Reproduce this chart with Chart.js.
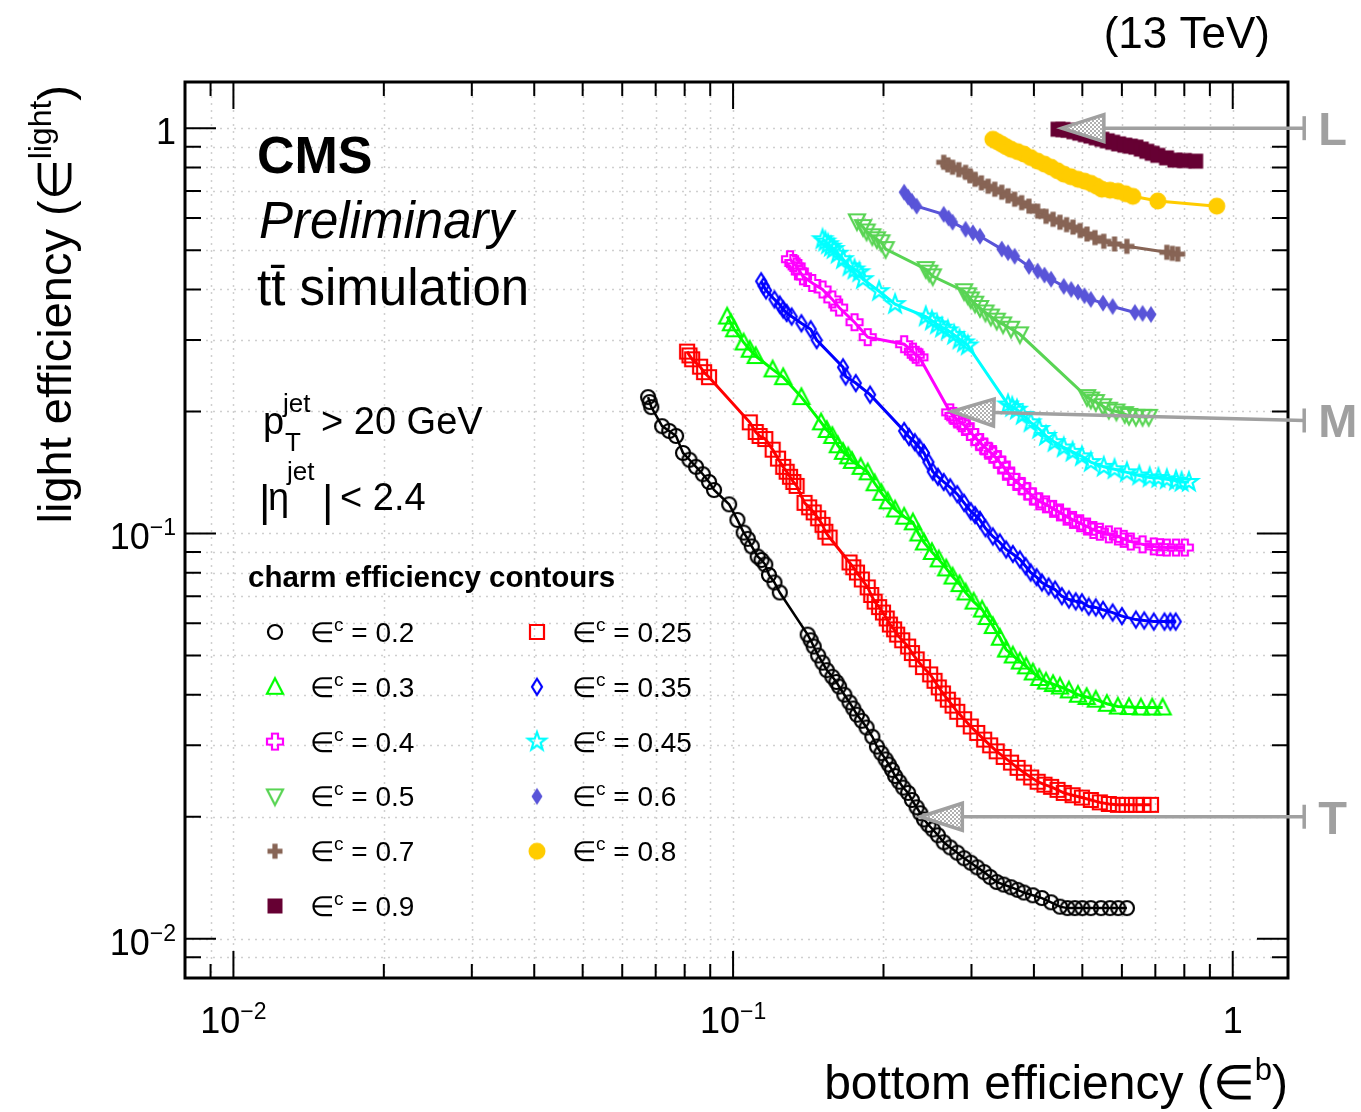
<!DOCTYPE html>
<html>
<head>
<meta charset="utf-8">
<script src="https://cdn.jsdelivr.net/npm/chart.js@4"></script>
<style>
  body { margin: 0; background: #ffffff; }
  #wrap { width: 1361px; height: 1112px; }
</style>
</head>
<body>
<div id="wrap"><canvas id="chart" width="1361" height="1112"></canvas></div>
<script>
// ---- data ----
const charmEff = [0.2, 0.25, 0.3, 0.35, 0.4, 0.45, 0.5, 0.6, 0.7, 0.8, 0.9];

const b020 = [0.0676, 0.0681, 0.0686, 0.0721, 0.0745, 0.0769, 0.0794, 0.0818, 0.0843, 0.087, 0.0895, 0.0916, 0.0982, 0.102, 0.105, 0.107, 0.109, 0.112, 0.114, 0.116, 0.118, 0.121, 0.124, 0.141, 0.143, 0.145, 0.148, 0.151, 0.154, 0.158, 0.161, 0.163, 0.167, 0.171, 0.174, 0.177, 0.181, 0.185, 0.19, 0.194, 0.198, 0.202, 0.205, 0.208, 0.211, 0.215, 0.219, 0.224, 0.228, 0.233, 0.237, 0.241, 0.246, 0.251, 0.257, 0.264, 0.272, 0.281, 0.29, 0.299, 0.308, 0.318, 0.327, 0.337, 0.348, 0.360, 0.371, 0.382, 0.398, 0.415, 0.433, 0.451, 0.467, 0.483, 0.50, 0.520, 0.545, 0.568, 0.59, 0.614];
const l020 = [0.217, 0.211, 0.205, 0.184, 0.179, 0.174, 0.158, 0.152, 0.146, 0.140, 0.134, 0.128, 0.118, 0.108, 0.1005, 0.097, 0.0929, 0.0877, 0.086, 0.0838, 0.079, 0.0757, 0.0715, 0.0563, 0.0545, 0.0526, 0.050, 0.0480, 0.046, 0.0443, 0.043, 0.0419, 0.040, 0.0383, 0.037, 0.0357, 0.0345, 0.0332, 0.0315, 0.0298, 0.0287, 0.0277, 0.0269, 0.0261, 0.0252, 0.0244, 0.0236, 0.0229, 0.022, 0.0211, 0.0204, 0.0197, 0.0191, 0.0186, 0.018, 0.0173, 0.0168, 0.0163, 0.0158, 0.0154, 0.015, 0.0146, 0.0142, 0.0138, 0.0136, 0.0134, 0.0132, 0.0130, 0.0128, 0.0126, 0.0123, 0.0120, 0.0119, 0.0119, 0.0119, 0.0119, 0.0119, 0.0119, 0.0119, 0.0119];

const b025 = [0.0809, 0.0818, 0.0828, 0.0859, 0.0875, 0.0895, 0.108, 0.111, 0.113, 0.116, 0.120, 0.123, 0.126, 0.128, 0.130, 0.132, 0.134, 0.139, 0.142, 0.145, 0.148, 0.151, 0.153, 0.156, 0.171, 0.174, 0.177, 0.181, 0.186, 0.189, 0.192, 0.196, 0.1995, 0.203, 0.206, 0.21, 0.213, 0.218, 0.224, 0.228, 0.233, 0.24, 0.248, 0.253, 0.258, 0.263, 0.269, 0.275, 0.281, 0.29, 0.299, 0.308, 0.318, 0.327, 0.337, 0.348, 0.360, 0.371, 0.382, 0.395, 0.407, 0.42, 0.433, 0.446, 0.459, 0.478, 0.499, 0.52, 0.542, 0.565, 0.589, 0.613, 0.640, 0.663, 0.686];
const l025 = [0.281, 0.275, 0.269, 0.258, 0.25, 0.243, 0.188, 0.178, 0.174, 0.171, 0.161, 0.153, 0.146, 0.142, 0.138, 0.134, 0.131, 0.119, 0.116, 0.1127, 0.109, 0.105, 0.101, 0.0977, 0.0848, 0.0825, 0.0801, 0.077, 0.0736, 0.0705, 0.0679, 0.0658, 0.0638, 0.0617, 0.0596, 0.058, 0.0563, 0.0545, 0.0526, 0.0507, 0.0489, 0.0468, 0.0449, 0.0433, 0.0417, 0.0403, 0.0389, 0.0376, 0.0363, 0.0348, 0.0334, 0.0322, 0.0310, 0.030, 0.0290, 0.0281, 0.0272, 0.0264, 0.0257, 0.025, 0.0244, 0.024, 0.0237, 0.0233, 0.0229, 0.0226, 0.0223, 0.022, 0.0217, 0.0215, 0.0214, 0.0214, 0.0214, 0.0214, 0.0214];

const b030 = [0.0973, 0.099, 0.1005, 0.105, 0.108, 0.111, 0.120, 0.126, 0.137, 0.150, 0.154, 0.158, 0.162, 0.166, 0.17, 0.173, 0.18, 0.186, 0.192, 0.198, 0.204, 0.211, 0.22, 0.229, 0.235, 0.241, 0.25, 0.258, 0.267, 0.275, 0.284, 0.292, 0.303, 0.315, 0.322, 0.331, 0.342, 0.352, 0.363, 0.375, 0.386, 0.398, 0.41, 0.423, 0.437, 0.451, 0.47, 0.490, 0.51, 0.532, 0.56, 0.589, 0.62, 0.655, 0.69, 0.724];
const l030 = [0.343, 0.33, 0.319, 0.296, 0.284, 0.274, 0.254, 0.243, 0.217, 0.188, 0.18, 0.174, 0.165, 0.159, 0.155, 0.151, 0.146, 0.1415, 0.133, 0.126, 0.12, 0.1146, 0.11, 0.1065, 0.10, 0.0950, 0.09, 0.0863, 0.082, 0.0783, 0.075, 0.0715, 0.0679, 0.0649, 0.0622, 0.0591, 0.0553, 0.0517, 0.05, 0.0483, 0.047, 0.0454, 0.044, 0.0431, 0.0425, 0.0419, 0.041, 0.0400, 0.0395, 0.0389, 0.038, 0.0374, 0.0373, 0.0372, 0.0372, 0.0372];

const b035 = [0.1138, 0.1151, 0.1164, 0.121, 0.124, 0.126, 0.128, 0.131, 0.137, 0.143, 0.147, 0.166, 0.168, 0.176, 0.188, 0.220, 0.225, 0.231, 0.236, 0.241, 0.246, 0.251, 0.257, 0.264, 0.272, 0.281, 0.29, 0.299, 0.305, 0.312, 0.32, 0.331, 0.342, 0.352, 0.363, 0.375, 0.385, 0.394, 0.405, 0.415, 0.428, 0.441, 0.455, 0.470, 0.485, 0.499, 0.515, 0.532, 0.55, 0.575, 0.6, 0.640, 0.665, 0.695, 0.73, 0.75, 0.769];
const l035 = [0.419, 0.408, 0.398, 0.378, 0.367, 0.357, 0.35, 0.343, 0.33, 0.319, 0.300, 0.257, 0.244, 0.235, 0.220, 0.179, 0.173, 0.168, 0.163, 0.158, 0.15, 0.142, 0.138, 0.134, 0.13, 0.125, 0.119, 0.1134, 0.111, 0.108, 0.103, 0.0983, 0.095, 0.0913, 0.089, 0.0863, 0.083, 0.0801, 0.078, 0.0757, 0.074, 0.0727, 0.07, 0.0687, 0.068, 0.0676, 0.066, 0.0657, 0.0648, 0.0638, 0.0625, 0.0613, 0.061, 0.0606, 0.0606, 0.0606, 0.0606];

const b040 = [0.130, 0.132, 0.134, 0.136, 0.138, 0.144, 0.151, 0.158, 0.163, 0.175, 0.186, 0.220, 0.229, 0.232, 0.236, 0.272, 0.276, 0.281, 0.287, 0.292, 0.298, 0.305, 0.311, 0.318, 0.324, 0.331, 0.338, 0.345, 0.352, 0.360, 0.369, 0.378, 0.388, 0.398, 0.41, 0.423, 0.437, 0.451, 0.465, 0.479, 0.495, 0.511, 0.526, 0.542, 0.565, 0.589, 0.605, 0.625, 0.66, 0.695, 0.715, 0.738, 0.77, 0.802];
const l040 = [0.475, 0.465, 0.456, 0.443, 0.431, 0.415, 0.400, 0.378, 0.361, 0.332, 0.305, 0.293, 0.281, 0.276, 0.272, 0.199, 0.195, 0.191, 0.187, 0.184, 0.178, 0.173, 0.168, 0.164, 0.16, 0.157, 0.152, 0.148, 0.143, 0.138, 0.134, 0.131, 0.127, 0.1234, 0.12, 0.118, 0.115, 0.1127, 0.11, 0.108, 0.106, 0.104, 0.102, 0.101, 0.0995, 0.0983, 0.097, 0.0955, 0.094, 0.0929, 0.0925, 0.0923, 0.0923, 0.0923];

const b045 = [0.151, 0.153, 0.155, 0.157, 0.159, 0.162, 0.166, 0.171, 0.175, 0.179, 0.182, 0.196, 0.211, 0.243, 0.25, 0.256, 0.262, 0.269, 0.277, 0.284, 0.29, 0.295, 0.355, 0.362, 0.370, 0.38, 0.394, 0.41, 0.423, 0.44, 0.459, 0.478, 0.499, 0.52, 0.552, 0.58, 0.614, 0.65, 0.682, 0.71, 0.738, 0.77, 0.79, 0.817];
const l045 = [0.532, 0.525, 0.517, 0.51, 0.503, 0.49, 0.475, 0.456, 0.448, 0.441, 0.424, 0.396, 0.368, 0.343, 0.335, 0.328, 0.322, 0.317, 0.309, 0.301, 0.296, 0.291, 0.208, 0.205, 0.202, 0.196, 0.188, 0.181, 0.174, 0.168, 0.163, 0.159, 0.155, 0.15, 0.146, 0.144, 0.1415, 0.139, 0.1375, 0.137, 0.136, 0.135, 0.134, 0.134];

const b050 = [0.177, 0.182, 0.185, 0.190, 0.194, 0.198, 0.202, 0.243, 0.247, 0.251, 0.290, 0.295, 0.299, 0.305, 0.312, 0.32, 0.328, 0.337, 0.347, 0.36, 0.375, 0.511, 0.52, 0.532, 0.55, 0.565, 0.585, 0.608, 0.62, 0.640, 0.66, 0.679];
const l050 = [0.589, 0.570, 0.556, 0.541, 0.532, 0.523, 0.503, 0.449, 0.44, 0.431, 0.396, 0.387, 0.378, 0.369, 0.360, 0.351, 0.343, 0.335, 0.328, 0.32, 0.310, 0.217, 0.214, 0.211, 0.206, 0.202, 0.2, 0.197, 0.195, 0.194, 0.194, 0.194];

const b060 = [0.220, 0.224, 0.228, 0.233, 0.264, 0.27, 0.275, 0.292, 0.302, 0.312, 0.345, 0.355, 0.366, 0.391, 0.407, 0.42, 0.433, 0.459, 0.475, 0.490, 0.505, 0.520, 0.55, 0.575, 0.637, 0.66, 0.686];
const l060 = [0.695, 0.676, 0.66, 0.642, 0.613, 0.60, 0.586, 0.563, 0.552, 0.541, 0.503, 0.493, 0.483, 0.456, 0.444, 0.434, 0.424, 0.407, 0.40, 0.394, 0.386, 0.378, 0.37, 0.363, 0.351, 0.349, 0.347];

const b070 = [0.264, 0.269, 0.275, 0.283, 0.292, 0.298, 0.305, 0.314, 0.324, 0.334, 0.345, 0.355, 0.366, 0.378, 0.391, 0.407, 0.423, 0.437, 0.451, 0.465, 0.479, 0.495, 0.511, 0.530, 0.552, 0.58, 0.614, 0.738, 0.757, 0.776];
const l070 = [0.824, 0.812, 0.801, 0.79, 0.778, 0.763, 0.748, 0.733, 0.719, 0.707, 0.695, 0.681, 0.668, 0.655, 0.642, 0.624, 0.606, 0.596, 0.586, 0.578, 0.570, 0.559, 0.548, 0.537, 0.526, 0.518, 0.511, 0.494, 0.491, 0.489];

const b080 = [0.331, 0.338, 0.345, 0.352, 0.360, 0.371, 0.382, 0.394, 0.407, 0.42, 0.433, 0.446, 0.459, 0.474, 0.490, 0.505, 0.520, 0.534, 0.547, 0.568, 0.589, 0.61, 0.631, 0.708, 0.929];
const l080 = [0.939, 0.926, 0.913, 0.90, 0.887, 0.875, 0.863, 0.846, 0.829, 0.815, 0.801, 0.785, 0.770, 0.759, 0.748, 0.74, 0.731, 0.719, 0.707, 0.703, 0.699, 0.689, 0.679, 0.661, 0.642];

const b090 = [0.447, 0.457, 0.468, 0.481, 0.494, 0.507, 0.520, 0.533, 0.547, 0.561, 0.575, 0.591, 0.608, 0.624, 0.640, 0.656, 0.673, 0.690, 0.708, 0.737, 0.766, 0.80, 0.843];
const l090 = [0.994, 0.992, 0.989, 0.98, 0.972, 0.964, 0.956, 0.947, 0.939, 0.931, 0.923, 0.915, 0.908, 0.903, 0.898, 0.888, 0.877, 0.867, 0.857, 0.845, 0.834, 0.832, 0.829];

const bEff = [b020, b025, b030, b035, b040, b045, b050, b060, b070, b080, b090];
const lightEff = [l020, l025, l030, l035, l040, l045, l050, l060, l070, l080, l090];

// working points (arrows): tip on the curves, tail at the label right of the frame
const wpNames = ['L', 'M', 'T'];
const wpTipB = [0.455, 0.274, 0.237];
const wpTipL = [1.0, 0.2, 0.02];
const wpTailL = [1.0, 0.19, 0.02];
const wpTailB = 1.39;

// axis ticks
const xMajor = [0.01, 0.1, 1];
const xMinor = [0.009, 0.02, 0.03, 0.04, 0.05, 0.06, 0.07, 0.08, 0.09, 0.2, 0.3, 0.4, 0.5, 0.6, 0.7, 0.8, 0.9];
const yMajor = [0.01, 0.1, 1];
const yMinor = [0.009, 0.02, 0.03, 0.04, 0.05, 0.06, 0.07, 0.08, 0.09, 0.2, 0.3, 0.4, 0.5, 0.6, 0.7, 0.8, 0.9];
const tickBase = ['10', '10', '1'];
const tickExp = ['\u22122', '\u22121', ''];

// ---- styling ----
const seriesColors = ['#000000', '#ff0000', '#00ff00', '#0000ff', '#ff00ff', '#00ffff',
  'rgb(89,212,84)', 'rgb(89,84,216)', 'rgb(135,100,85)', '#ffcc00', 'rgb(102,0,51)'];
const markerKinds = ['circle', 'square', 'triUp', 'diamond', 'cross', 'star',
  'triDown', 'diamondF', 'crossF', 'circleF', 'squareF'];
const FONT = '"Liberation Sans", Arial, Helvetica, sans-serif';
const GRAY = 'rgb(160,160,160)';

function makeMarker(kind, color) {
  const s = 26;
  const c = document.createElement('canvas');
  c.width = s; c.height = s;
  const g = c.getContext('2d');
  g.translate(s / 2, s / 2);
  g.strokeStyle = color;
  g.fillStyle = color;
  g.lineWidth = 2.2;
  g.beginPath();
  const poly = pts => { g.moveTo(pts[0][0], pts[0][1]); pts.slice(1).forEach(p => g.lineTo(p[0], p[1])); g.closePath(); };
  const plus = (a, b) => poly([[-b, -a], [b, -a], [b, -b], [a, -b], [a, b], [b, b], [b, a], [-b, a], [-b, b], [-a, b], [-a, -b], [-b, -b]]);
  switch (kind) {
    case 'circle': g.arc(0, 0, 7, 0, 2 * Math.PI); break;
    case 'circleF': g.arc(0, 0, 8.5, 0, 2 * Math.PI); break;
    case 'square': g.rect(-7, -7, 14, 14); break;
    case 'squareF': g.rect(-7.5, -7.5, 15, 15); break;
    case 'triUp': poly([[0, -8.5], [8, 7], [-8, 7]]); break;
    case 'triDown': poly([[0, 8.5], [8, -7], [-8, -7]]); break;
    case 'diamond': poly([[0, -8], [5, 0], [0, 8], [-5, 0]]); break;
    case 'diamondF': poly([[0, -8.5], [5.5, 0], [0, 8.5], [-5.5, 0]]); break;
    case 'cross': plus(8, 3); break;
    case 'crossF': plus(7.5, 2.6); break;
    case 'star': {
      const pts = [];
      for (let k = 0; k < 10; k++) {
        const r = k % 2 === 0 ? 9.5 : 3.8;
        const a = -Math.PI / 2 + k * Math.PI / 5;
        pts.push([r * Math.cos(a), r * Math.sin(a)]);
      }
      poly(pts);
      break;
    }
  }
  if (kind.endsWith('F')) g.fill(); else g.stroke();
  return c;
}

const markers = markerKinds.map((k, i) => makeMarker(k, seriesColors[i]));

const datasets = charmEff.map((c, i) => ({
  label: '\u2208c = ' + c,
  charm: c,
  data: bEff[i].map((b, j) => ({ x: b, y: lightEff[i][j] })),
  showLine: true,
  borderColor: seriesColors[i],
  backgroundColor: seriesColors[i],
  borderWidth: i === 0 ? 2.5 : 3,
  pointStyle: markers[i],
  pointRadius: 8,
  fill: false
}));

// hatch pattern for arrow heads
function hatch(ctx) {
  const p = document.createElement('canvas');
  p.width = 4; p.height = 4;
  const g = p.getContext('2d');
  g.fillStyle = '#ffffff'; g.fillRect(0, 0, 4, 4);
  g.fillStyle = '#b0b0b0'; g.fillRect(0, 0, 2, 2); g.fillRect(2, 2, 2, 2);
  return ctx.createPattern(p, 'repeat');
}

function text(ctx, s, x, y, font, align, color) {
  ctx.font = font;
  ctx.fillStyle = color || '#000';
  ctx.textAlign = align || 'left';
  ctx.textBaseline = 'alphabetic';
  ctx.fillText(s, x, y);
}

// draw a row of pieces [str, size, dy, weight/style]
function rich(ctx, pieces, x, y, align) {
  let total = 0;
  pieces.forEach(p => { ctx.font = (p[3] || '') + ' ' + p[1] + 'px ' + FONT; total += ctx.measureText(p[0]).width; });
  let cx = align === 'right' ? x - total : align === 'center' ? x - total / 2 : x;
  pieces.forEach(p => {
    ctx.font = (p[3] || '') + ' ' + p[1] + 'px ' + FONT;
    ctx.textAlign = 'left';
    ctx.fillStyle = '#000';
    ctx.fillText(p[0], cx, y + (p[2] || 0));
    cx += ctx.measureText(p[0]).width;
  });
}

const rootStyle = {
  id: 'rootStyle',
  beforeDraw(chart) {
    const ctx = chart.ctx;
    ctx.save();
    ctx.fillStyle = '#ffffff';
    ctx.fillRect(0, 0, chart.width, chart.height);
    ctx.restore();
  },
  beforeDatasetsDraw(chart) {
    const { ctx, chartArea: a, scales: { x, y } } = chart;
    ctx.save();
    ctx.strokeStyle = '#cfcfcf';
    ctx.lineWidth = 1.5;
    ctx.setLineDash([2, 5]);
    xMajor.concat(xMinor).forEach(v => {
      const px = Math.round(x.getPixelForValue(v)) + 0.5;
      ctx.beginPath(); ctx.moveTo(px, a.top); ctx.lineTo(px, a.bottom); ctx.stroke();
    });
    yMajor.concat(yMinor).forEach(v => {
      const py = Math.round(y.getPixelForValue(v)) + 0.5;
      ctx.beginPath(); ctx.moveTo(a.left, py); ctx.lineTo(a.right, py); ctx.stroke();
    });
    ctx.restore();
  },
  afterDatasetsDraw(chart) {
    const { ctx, chartArea: a, scales: { x, y } } = chart;
    ctx.save();

    // ticks on all four sides, pointing inwards
    ctx.strokeStyle = '#000';
    ctx.lineWidth = 2;
    const xt = (v, len) => {
      const px = x.getPixelForValue(v);
      ctx.beginPath();
      ctx.moveTo(px, a.bottom); ctx.lineTo(px, a.bottom - len);
      ctx.moveTo(px, a.top); ctx.lineTo(px, a.top + len);
      ctx.stroke();
    };
    const yt = (v, len) => {
      const py = y.getPixelForValue(v);
      ctx.beginPath();
      ctx.moveTo(a.left, py); ctx.lineTo(a.left + len, py);
      ctx.moveTo(a.right, py); ctx.lineTo(a.right - len, py);
      ctx.stroke();
    };
    xMajor.forEach(v => xt(v, 27));
    xMinor.forEach(v => xt(v, 14));
    yMajor.forEach(v => yt(v, 31));
    yMinor.forEach(v => yt(v, 16));

    // frame
    ctx.lineWidth = 3;
    ctx.strokeRect(a.left, a.top, a.right - a.left, a.bottom - a.top);

    // tick labels
    xMajor.forEach((v, i) => {
      const pcs = [[tickBase[i], 36]];
      if (tickExp[i]) pcs.push([tickExp[i], 23, -14]);
      rich(ctx, pcs, x.getPixelForValue(v), 1033, 'center');
    });
    yMajor.forEach((v, i) => {
      const pcs = [[tickBase[i], 36]];
      if (tickExp[i]) pcs.push([tickExp[i], 23, -14]);
      rich(ctx, pcs, 176, y.getPixelForValue(v) + 16, 'right');
    });

    // axis titles
    rich(ctx, [['bottom efficiency (\u2208', 48], ['b', 31, -19], [')', 48]], 1288, 1099, 'right');
    ctx.save();
    ctx.translate(71, 85);
    ctx.rotate(-Math.PI / 2);
    rich(ctx, [['light efficiency (\u2208', 47], ['light', 32, -20], [')', 47]], 0, 0, 'right');
    ctx.restore();

    text(ctx, '(13 TeV)', 1270, 48, '44px ' + FONT, 'right');

    // labels inside the frame
    text(ctx, 'CMS', 257, 173, 'bold 52px ' + FONT);
    text(ctx, 'Preliminary', 259, 238, 'italic 51px ' + FONT);
    text(ctx, 't\u0074\u0304 simulation', 257, 305, '51px ' + FONT);

    text(ctx, 'p', 263, 434, '38px ' + FONT);
    text(ctx, 'jet', 283, 412, '26px ' + FONT);
    text(ctx, 'T', 285, 451, '26px ' + FONT);
    text(ctx, '> 20 GeV', 321, 434, '38px ' + FONT);

    text(ctx, '|', 259, 516, '44px ' + FONT);
    text(ctx, '\u03b7', 268, 510, '38px ' + FONT);
    text(ctx, 'jet', 287, 480, '26px ' + FONT);
    text(ctx, '|', 322, 516, '44px ' + FONT);
    text(ctx, '< 2.4', 340, 510, '38px ' + FONT);

    // legend
    text(ctx, 'charm efficiency contours', 248, 587, 'bold 29.5px ' + FONT);
    chart.data.datasets.forEach((ds, i) => {
      const col = i % 2, row = Math.floor(i / 2);
      const mx = col === 0 ? 275 : 537;
      const my = 632 + row * 54.8;
      const m = ds.pointStyle;
      ctx.drawImage(m, mx - m.width / 2, my - m.height / 2);
      rich(ctx, [['\u2208', 28], ['c', 19, -11], [' = ' + ds.charm, 28]], mx + 35, my + 10, 'left');
    });

    // working point arrows
    const pat = hatch(ctx);
    ctx.strokeStyle = GRAY;
    ctx.lineWidth = 3.5;
    ctx.lineJoin = 'miter';
    wpNames.forEach((name, i) => {
      const x0 = x.getPixelForValue(wpTailB), y0 = y.getPixelForValue(wpTailL[i]);
      const x1 = x.getPixelForValue(wpTipB[i]), y1 = y.getPixelForValue(wpTipL[i]);
      const ang = Math.atan2(y1 - y0, x1 - x0);
      const L = 42, W = 13.5;
      const bx = x1 - L * Math.cos(ang), by = y1 - L * Math.sin(ang);
      const nx = -Math.sin(ang), ny = Math.cos(ang);
      ctx.beginPath(); ctx.moveTo(x0, y0); ctx.lineTo(bx, by); ctx.stroke();
      ctx.beginPath(); ctx.moveTo(x0, y0 - 12); ctx.lineTo(x0, y0 + 12); ctx.stroke();
      ctx.beginPath();
      ctx.moveTo(x1, y1);
      ctx.lineTo(bx + nx * W, by + ny * W);
      ctx.lineTo(bx - nx * W, by - ny * W);
      ctx.closePath();
      ctx.fillStyle = pat;
      ctx.fill();
      ctx.stroke();
      text(ctx, name, x0 + 14, y0 + 17, 'bold 47px ' + FONT, 'left', GRAY);
    });

    ctx.restore();
  }
};

const ctx = document.getElementById('chart').getContext('2d');
const chart = new Chart(ctx, {
  type: 'scatter',
  data: { datasets: datasets },
  options: {
    responsive: false,
    animation: false,
    devicePixelRatio: 1,
    events: [],
    layout: { padding: { left: 185, right: 73, top: 82, bottom: 134 } },
    plugins: { legend: { display: false }, tooltip: { enabled: false } },
    scales: {
      x: { type: 'logarithmic', min: 0.008, max: 1.29, display: false },
      y: { type: 'logarithmic', min: 0.008, max: 1.3, display: false }
    }
  },
  plugins: [rootStyle]
});
</script>
</body>
</html>
